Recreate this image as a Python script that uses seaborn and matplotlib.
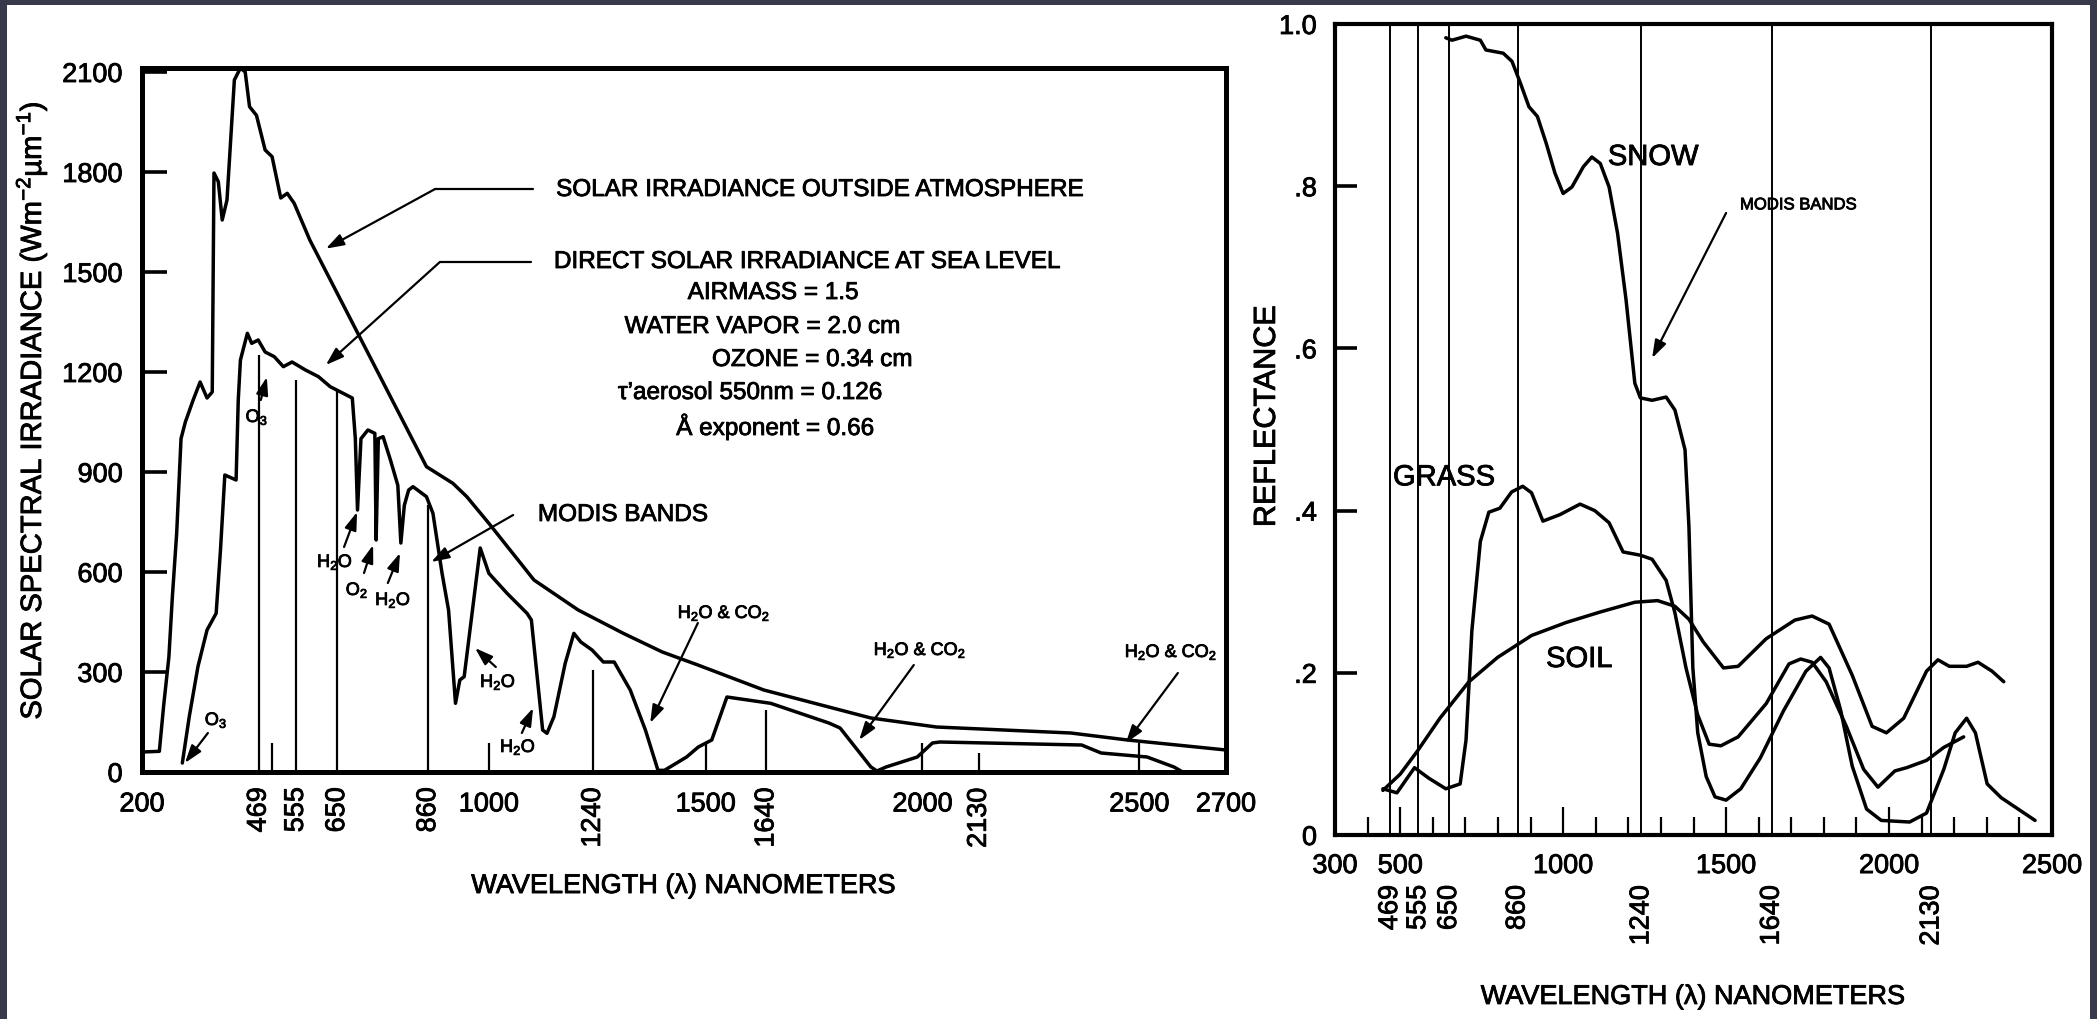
import matplotlib
matplotlib.use("Agg")
import matplotlib.pyplot as plt
import matplotlib.patheffects as pe
import matplotlib.text as mtext
import seaborn as sns
from matplotlib.patches import Rectangle

# ---------------- data ----------------
# Left panel: solar spectral irradiance (W m-2 um-1)
toa_wl = [200, 240, 250, 262, 270, 280, 290, 300, 318, 334, 350, 362, 366, 376, 385, 396,
          413, 427, 438, 448, 464, 484, 500, 520, 535, 551, 587, 856, 917, 949, 1000, 1104,
          1206, 1310, 1400, 1480, 1634, 1881, 2032, 2342, 2473, 2700]
toa_val = [60, 62, 200, 345, 525, 717, 1000, 1050, 1116, 1170, 1122, 1140, 1797, 1771, 1656, 1716,
           2076, 2112, 2100, 1996, 1970, 1866, 1846, 1722, 1736, 1706, 1596, 916, 866, 826, 746, 576,
           486, 416, 360, 322, 246, 162, 135, 117, 96, 66]

sea_wl = [293, 309, 329, 350, 371, 381, 391, 417, 422, 427, 443, 453, 468, 484, 505, 526, 546,
          577, 607, 634, 685, 692, 697, 705, 721, 737, 740, 745, 756, 773, 790, 797, 805, 815,
          825, 856, 871, 892, 907, 923, 933, 943, 980, 1000, 1042, 1088, 1098, 1124, 1134, 1150,
          1176, 1196, 1212, 1238, 1264, 1289, 1326, 1361, 1390, 1405, 1456, 1483, 1514, 1549,
          1650, 1784, 1810, 1881, 1895, 1916, 1988, 2023, 2040, 2367, 2412, 2518, 2580, 2600]
sea_val = [27, 166, 316, 426, 476, 666, 891, 876, 1116, 1236, 1316, 1286, 1296, 1260, 1246, 1216, 1230,
           1206, 1186, 1156, 1122, 1000, 786, 1000, 1026, 1016, 696, 1000, 1006, 936, 860, 687, 800, 846,
           856, 826, 776, 596, 486, 206, 276, 286, 672, 596, 536, 476, 456, 126, 116, 166,
           326, 416, 390, 366, 330, 330, 246, 126, 5, 5, 45, 75, 96, 225,
           206, 147, 132, 15, 3, 15, 45, 87, 90, 81, 57, 45, 15, 0]

modis_bands = [469, 555, 650, 860, 1240, 1640, 2130]
band_labels = ["469", "555", "650", "860", "1240", "1640", "2130"]
left_band_top = [1250, 1176, 1146, 800, 306, 186, 57]

left_xticks = [200, 500, 1000, 1500, 2000, 2500, 2700]
left_xticklabels = ["200", "", "1000", "1500", "2000", "2500", "2700"]
left_yticks = [0, 300, 600, 900, 1200, 1500, 1800, 2100]
left_yticklabels = ["0", "300", "600", "900", "1200", "1500", "1800", "2100"]

# Right panel: reflectance
snow_wl = [640, 659, 702, 746, 763, 816, 843, 869, 895, 921, 948, 975, 1000, 1027, 1062, 1088,
           1114, 1141, 1167, 1193, 1220, 1237, 1273, 1316, 1343, 1374, 1386, 1398, 1413, 1439,
           1466, 1500, 1545, 1605, 1676, 1745, 1790, 1816, 1852, 1887, 1931, 1976, 2063, 2115,
           2168, 2203, 2238, 2265, 2301, 2344, 2396, 2448]
snow_val = [0.983, 0.980, 0.985, 0.980, 0.968, 0.964, 0.954, 0.927, 0.898, 0.886, 0.853, 0.816,
            0.791, 0.799, 0.824, 0.836, 0.828, 0.799, 0.742, 0.660, 0.557, 0.539, 0.536, 0.540,
            0.524, 0.475, 0.380, 0.206, 0.126, 0.072, 0.047, 0.043, 0.057, 0.095, 0.153, 0.202,
            0.219, 0.206, 0.153, 0.085, 0.032, 0.018, 0.016, 0.027, 0.081, 0.126, 0.144, 0.126,
            0.063, 0.046, 0.032, 0.018]

grass_wl = [447, 490, 544, 588, 640, 684, 702, 720, 746, 772, 806, 842, 876, 903, 938, 990, 1052,
            1097, 1141, 1184, 1237, 1273, 1316, 1343, 1377, 1413, 1448, 1484, 1537, 1623, 1693,
            1729, 1764, 1807, 1869, 1922, 1966, 2018, 2054, 2115, 2168, 2229]
grass_val = [0.057, 0.052, 0.083, 0.070, 0.057, 0.063, 0.117, 0.252, 0.362, 0.398, 0.403, 0.423,
             0.430, 0.422, 0.387, 0.395, 0.408, 0.400, 0.385, 0.349, 0.345, 0.340, 0.314, 0.274,
             0.206, 0.148, 0.112, 0.110, 0.121, 0.162, 0.211, 0.217, 0.213, 0.189, 0.134, 0.081,
             0.059, 0.079, 0.083, 0.092, 0.108, 0.121]

soil_wl = [447, 500, 552, 622, 711, 799, 903, 1009, 1114, 1220, 1290, 1343, 1386, 1430, 1492,
           1537, 1623, 1711, 1764, 1816, 1887, 1948, 1992, 2045, 2115, 2150, 2185, 2238, 2273,
           2316, 2352]
soil_val = [0.055, 0.075, 0.103, 0.144, 0.189, 0.219, 0.246, 0.262, 0.275, 0.287, 0.289, 0.282,
            0.266, 0.238, 0.206, 0.208, 0.242, 0.265, 0.270, 0.260, 0.197, 0.134, 0.126, 0.144,
            0.202, 0.216, 0.208, 0.208, 0.213, 0.202, 0.189]

right_xticks = [300, 500, 1000, 1500, 2000, 2500]
right_xticklabels = ["300", "500", "1000", "1500", "2000", "2500"]
right_minor = [w for w in range(400, 2500, 100) if w not in right_xticks]
right_yticks = [0, 0.2, 0.4, 0.6, 0.8, 1.0]
right_yticklabels = ["0", ".2", ".4", ".6", ".8", "1.0"]

# ---------------- style ----------------
sns.set_theme(style="white")
plt.rcParams["font.family"] = ["Liberation Sans", "DejaVu Sans"]
plt.rcParams["mathtext.fontset"] = "custom"
plt.rcParams["mathtext.rm"] = "Liberation Sans"
plt.rcParams["mathtext.it"] = "Liberation Sans:italic"
plt.rcParams["mathtext.bf"] = "Liberation Sans:bold"
plt.rcParams["text.color"] = "black"
plt.rcParams["axes.labelcolor"] = "black"
plt.rcParams["xtick.color"] = "black"
plt.rcParams["ytick.color"] = "black"

W, H = 2097, 1019
fig = plt.figure(figsize=(W / 100, H / 100), dpi=100, facecolor="#383a4c")
fig.add_artist(Rectangle((7 / W, 0), (2090 - 7) / W, (H - 5) / H, transform=fig.transFigure,
                         facecolor="white", edgecolor="none", zorder=0))

axL = fig.add_axes([142 / W, (H - 772) / H, (1226 - 142) / W, (772 - 68) / H])
axR = fig.add_axes([1335 / W, (H - 835) / H, (2052 - 1335) / W, (835 - 24) / H])

LW = 2.5
ARROW = dict(arrowstyle="-|>,head_length=0.9,head_width=0.3", color="black", lw=1.6,
             shrinkA=0, shrinkB=0)

# ---------------- left panel ----------------
sns.lineplot(x=toa_wl, y=toa_val, ax=axL, color="black", linewidth=LW, sort=False, estimator=None)
sns.lineplot(x=sea_wl, y=sea_val, ax=axL, color="black", linewidth=LW, sort=False, estimator=None)
axL.vlines(modis_bands, 0, left_band_top, color="black", linewidth=1.6)

axL.set_xlim(200, 2700)
axL.set_ylim(0, 2112)
axL.set_xticks(left_xticks)
axL.set_xticklabels(left_xticklabels)
axL.set_yticks(left_yticks)
axL.set_yticklabels(left_yticklabels)
axL.tick_params(axis="y", direction="in", length=18, width=2.6, pad=14, labelsize=19.5, left=True)
axL.tick_params(axis="x", direction="in", length=21, width=1.6, pad=14, labelsize=19.5, bottom=True)
for sp in axL.spines.values():
    sp.set_linewidth(3.6)
    sp.set_color("black")
    sp.set_visible(True)

for b, lab in zip(modis_bands, band_labels):
    axL.annotate(lab, xy=(b, 0), xycoords=("data", "axes fraction"), xytext=(0, -11),
                 textcoords="offset points", rotation=90, ha="center", va="top", fontsize=19.5)

axL.set_xlabel("WAVELENGTH (\u03bb) NANOMETERS", fontsize=19.5)
axL.xaxis.set_label_coords(0.5, -0.1435)
axL.set_ylabel("SOLAR SPECTRAL IRRADIANCE (Wm$^{-2}$\u00b5m$^{-1}$)", fontsize=21)
axL.yaxis.set_label_coords(-0.0858, 0.513)

# annotations
axL.text(1155, 1746, "SOLAR IRRADIANCE OUTSIDE ATMOSPHERE", fontsize=17.5, ha="left", va="center")
axL.plot([1102, 876], [1749, 1749], color="black", lw=1.6)
axL.annotate("", xy=(624, 1570), xytext=(876, 1749), arrowprops=ARROW)

axL.text(1150, 1530, "DIRECT SOLAR IRRADIANCE AT SEA LEVEL", fontsize=17.5, ha="left", va="center")
axL.plot([1097, 887], [1530, 1530], color="black", lw=1.6)
axL.annotate("", xy=(624, 1221), xytext=(887, 1530), arrowprops=ARROW)

params = [("AIRMASS = 1.5", 1655, 1437),
          ("WATER VAPOR = 2.0 cm", 1630, 1335),
          ("OZONE = 0.34 cm", 1745, 1236),
          ("\u03c4\u2019aerosol 550nm = 0.126", 1602, 1137),
          ("\u00c5 exponent = 0.66", 1660, 1035)]
for txt, x, y in params:
    axL.text(x, y, txt, fontsize=17.5, ha="center", va="center")

axL.text(1113, 771, "MODIS BANDS", fontsize=17.5, ha="left", va="center")
axL.annotate("", xy=(867, 630), xytext=(1056, 771), arrowprops=ARROW)

small = [("O$_3$", 371, 156, (352, 117), (299, 27)),
         ("O$_3$", 465, 1065, (474, 1116), (488, 1185)),
         ("H$_2$O", 645, 630, (666, 675), (696, 780)),
         ("O$_2$", 696, 546, (712, 597), (733, 681)),
         ("H$_2$O", 779, 516, (767, 567), (795, 657)),
         ("H$_2$O", 1021, 270, (1016, 315), (968, 372)),
         ("H$_2$O", 1067, 75, (1076, 117), (1102, 192)),
         ("H$_2$O & CO$_2$", 1542, 477, (1482, 447), (1372, 147)),
         ("H$_2$O & CO$_2$", 1994, 366, (1980, 321), (1854, 96)),
         ("H$_2$O & CO$_2$", 2573, 360, (2589, 297), (2469, 87))]
for txt, x, y, s, e in small:
    axL.text(x, y, txt, fontsize=13, ha="center", va="center")
    axL.annotate("", xy=e, xytext=s, arrowprops=ARROW)

# ---------------- right panel ----------------
sns.lineplot(x=snow_wl, y=snow_val, ax=axR, color="black", linewidth=LW, sort=False, estimator=None)
sns.lineplot(x=grass_wl, y=grass_val, ax=axR, color="black", linewidth=LW, sort=False, estimator=None)
sns.lineplot(x=soil_wl, y=soil_val, ax=axR, color="black", linewidth=LW, sort=False, estimator=None)
axR.vlines(modis_bands, 0, 1.0, color="black", linewidth=1.4)

axR.set_xlim(300, 2500)
axR.set_ylim(0, 1.0)
axR.set_xticks(right_xticks)
axR.set_xticklabels(right_xticklabels)
axR.set_xticks(right_minor, minor=True)
axR.set_yticks(right_yticks)
axR.set_yticklabels(right_yticklabels)
axR.tick_params(axis="y", direction="in", length=16, width=2.6, pad=13, labelsize=19.5, left=True)
axR.tick_params(axis="x", which="major", direction="in", length=20, width=1.6, pad=13,
                labelsize=19.5, bottom=True)
axR.tick_params(axis="x", which="minor", direction="in", length=13, width=1.6, bottom=True)
for sp in axR.spines.values():
    sp.set_linewidth(3.0)
    sp.set_color("black")
    sp.set_visible(True)

for b, lab in zip(modis_bands, band_labels):
    axR.annotate(lab, xy=(b, 0), xycoords=("data", "axes fraction"), xytext=(0, -36),
                 textcoords="offset points", rotation=90, ha="center", va="top", fontsize=19.5)

axR.set_xlabel("WAVELENGTH (\u03bb) NANOMETERS", fontsize=19.5)
axR.xaxis.set_label_coords(0.5, -0.1837)
axR.set_ylabel("REFLECTANCE", fontsize=22)
axR.yaxis.set_label_coords(-0.074, 0.516)

axR.text(1276, 0.836, "SNOW", fontsize=21, ha="center", va="center")
axR.text(1721, 0.777, "MODIS BANDS", fontsize=12, ha="center", va="center")
axR.annotate("", xy=(1273, 0.588), xytext=(1500, 0.767), arrowprops=ARROW)
axR.text(634, 0.441, "GRASS", fontsize=21, ha="center", va="center")
axR.text(1049, 0.217, "SOIL", fontsize=21, ha="center", va="center")

# slightly heavier text, like the scanned original
for t in fig.findobj(mtext.Text):
    if t.get_text():
        t.set_path_effects([pe.withStroke(linewidth=0.6, foreground="black")])

fig.savefig("out.png", dpi=100, facecolor=fig.get_facecolor())
